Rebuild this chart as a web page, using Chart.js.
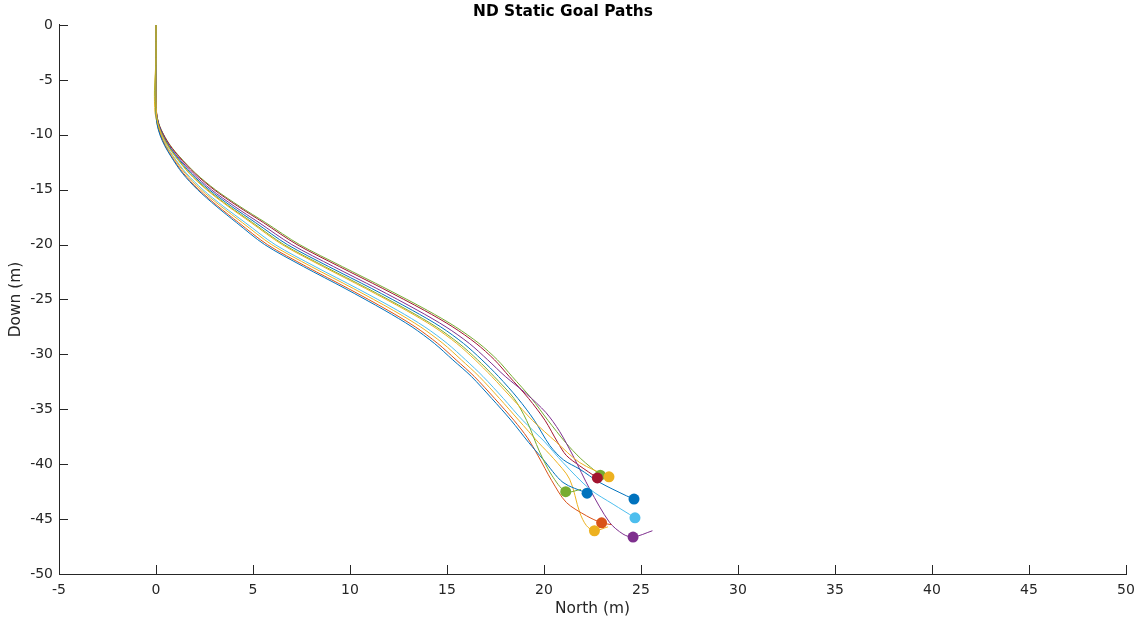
<!DOCTYPE html>
<html>
<head>
<meta charset="utf-8">
<script src="https://cdn.jsdelivr.net/npm/chart.js@4.4.1/dist/chart.umd.min.js"></script>
<style>
  html, body { margin: 0; padding: 0; background: #fff; }
  #wrap { width: 1147px; height: 619px; }
</style>
</head>
<body>
<div id="wrap"><canvas id="paths" width="1147" height="619"></canvas></div>
<script>
// path samples: [north, down]
var pathGreenA = [[0,0],[0,-3],[0,-6],[0.03,-8],[0.15,-9],[0.4,-10],[0.75,-11],[1.22,-12],[2.04,-13.5],[3.06,-15],[4.3,-16.5],[5.65,-18],[7.4,-20],[9.6,-22],[11.85,-24],[14.0,-26],[15.45,-27.5],[16.65,-29],[17.6,-30.5],[18.35,-32],[19.35,-34],[20.2,-36],[21.1,-38],[21.9,-39.5],[22.9,-41.0]];
var pathRed = [[0,0],[0,-3],[0,-6],[0.03,-8],[0.14,-9],[0.39,-10],[0.73,-11],[1.19,-12],[1.99,-13.5],[2.99,-15],[4.21,-16.5],[5.54,-18],[7.27,-20],[9.45,-22],[11.69,-24],[13.84,-26],[15.3,-27.5],[16.5,-29],[17.45,-30.5],[18.2,-32],[19.2,-34],[20.05,-36],[20.7,-38],[21.15,-39.2],[21.84,-40.15],[22.75,-41.25]];
var pathPurple = [[0,0],[0,-3],[0,-6],[0.02,-8],[0.13,-9],[0.36,-10],[0.68,-11],[1.12,-12],[1.89,-13.5],[2.85,-15],[4.03,-16.5],[5.31,-18],[7.0,-20],[9.15,-22],[11.38,-24],[13.5,-26],[14.95,-27.5],[16.15,-29],[17.1,-30.5],[18.0,-32],[19.1,-33.6],[20.1,-35.3],[20.8,-37],[21.5,-39.25],[22.36,-42.27],[23.38,-45.3],[24.07,-46.36],[24.59,-46.64],[25.59,-46.06]];
var pathBlueA = [[0,0],[0,-3],[0,-6],[0.02,-8],[0.12,-9],[0.33,-10],[0.65,-11],[1.07,-12],[1.8,-13.5],[2.74,-15],[3.88,-16.5],[5.13,-18],[6.77,-20],[8.9,-22],[11.12,-24],[13.23,-26],[14.68,-27.5],[15.85,-29],[16.8,-30.5],[17.65,-32],[18.65,-34],[19.5,-36],[20.3,-38.3],[21.0,-39.6],[21.84,-40.45],[22.87,-41.66],[24.25,-42.88],[24.64,-43.18]];
var pathGreenB = [[0,0],[0,-3],[-0.05,-6],[0,-8],[0.1,-9],[0.31,-10],[0.62,-11],[1.02,-12],[1.73,-13.5],[2.65,-15],[3.76,-16.5],[4.98,-18],[6.59,-20],[8.7,-22],[10.91,-24],[13.01,-26],[14.45,-27.5],[15.62,-29],[16.58,-30.5],[17.42,-32],[18.45,-34],[19.1,-36],[19.78,-38.9],[20.4,-41],[21.12,-42.5],[21.9,-42.3]];
var pathYellowA = [[0,0],[0,-3],[0,-6],[0.02,-8],[0.1,-9],[0.3,-10],[0.6,-11],[1.0,-12],[1.7,-13.5],[2.6,-15],[3.7,-16.5],[4.9,-18],[6.5,-20],[8.6,-22],[10.8,-24],[12.9,-26],[14.33,-27.5],[15.5,-29],[16.45,-30.5],[17.3,-32],[18.35,-34],[19.4,-36],[20.64,-38],[21.84,-39.85],[23.35,-41.15]];
var pathCyan = [[0,0],[0,-3],[-0.03,-6],[0,-8],[0.08,-9],[0.26,-10],[0.54,-11],[0.91,-12],[1.56,-13.5],[2.42,-15],[3.46,-16.5],[4.6,-18],[6.14,-20],[8.2,-22],[10.38,-24],[12.46,-26],[13.86,-27.5],[15.01,-29],[15.96,-30.5],[16.85,-32],[17.9,-34],[18.9,-36],[20.0,-37.9],[20.98,-39.85],[22.36,-42.27],[23.56,-43.64],[24.69,-44.88]];
var pathYellowB = [[0,0],[0,-3],[-0.08,-6],[-0.05,-8],[0.07,-9],[0.24,-10],[0.51,-11],[0.87,-12],[1.5,-13.5],[2.32,-15],[3.34,-16.5],[4.45,-18],[5.96,-20],[8.0,-22],[10.17,-24],[12.24,-26],[13.64,-27.5],[14.79,-29],[15.74,-30.5],[16.65,-32],[17.7,-34],[18.7,-36],[19.7,-38],[20.5,-39.5],[21.32,-41.36],[21.84,-44.39],[22.19,-45.6],[22.6,-46.06],[23.3,-45.7]];
var pathOrange = [[0,0],[0,-3],[0,-6],[0.02,-8],[0.06,-9],[0.22,-10],[0.47,-11],[0.81,-12],[1.41,-13.5],[2.21,-15],[3.19,-16.5],[4.26,-18],[5.74,-20],[7.75,-22],[9.91,-24],[11.97,-26],[13.37,-27.5],[14.52,-29],[15.47,-30.5],[16.4,-32],[17.45,-34],[18.45,-36],[19.15,-37.6],[19.7,-39.25],[20.4,-41.5],[21.15,-43.48],[22.19,-44.7],[22.97,-45.34],[23.47,-45.5]];
var pathBlueB = [[0,0],[0,-3],[0,-6],[0,-8],[0.05,-9],[0.2,-10],[0.45,-11],[0.78,-12],[1.36,-13.5],[2.14,-15],[3.1,-16.5],[4.15,-18],[5.6,-20],[7.6,-22],[9.75,-24],[11.8,-26],[13.2,-27.5],[14.35,-29],[15.3,-30.5],[16.25,-32],[17.3,-34],[18.3,-36],[19.2,-38],[19.95,-39.55],[20.98,-41.66],[22.22,-42.64]];

// goal markers
var goalNorth = [22.9, 23.35, 22.75, 21.12, 22.22, 24.64, 24.69, 22.97, 22.6, 24.59];
var goalDown = [-41.0, -41.15, -41.25, -42.5, -42.64, -43.18, -44.88, -45.34, -46.06, -46.64];

var northTicks = [-5, 0, 5, 10, 15, 20, 25, 30, 35, 40, 45, 50];
var downTicks = [-50, -45, -40, -35, -30, -25, -20, -15, -10, -5, 0];

// matlab default colour order
var mBlue = '#0072BD', mOrange = '#D95319', mYellow = '#EDB120', mPurple = '#7E2F8E',
    mGreen = '#77AC30', mCyan = '#4DBEEE', mRed = '#A2142F';
var goalColors = [mGreen, mYellow, mRed, mGreen, mBlue, mBlue, mCyan, mOrange, mYellow, mPurple];

// first entry ends up drawn on top
var pathList = [
  [pathYellowA, mYellow], [pathGreenB, mGreen], [pathBlueB, mBlue], [pathOrange, mOrange],
  [pathYellowB, mYellow], [pathCyan, mCyan], [pathBlueA, mBlue], [pathPurple, mPurple],
  [pathRed, mRed], [pathGreenA, mGreen]
];

var axisColor = '#262626';

function toPoints(arr) {
  return arr.map(function (p) { return {x: p[0], y: p[1]}; });
}

var datasets = [{
  label: 'goals',
  data: goalNorth.map(function (n, i) { return {x: n, y: goalDown[i]}; }),
  showLine: false,
  pointRadius: 5.5,
  pointBackgroundColor: goalColors,
  pointBorderColor: goalColors,
  pointBorderWidth: 0
}];
pathList.forEach(function (p, i) {
  datasets.push({
    label: 'path ' + (i + 1),
    data: toPoints(p[0]),
    showLine: true,
    borderColor: p[1],
    borderWidth: 1,
    pointRadius: 0,
    tension: 0.3
  });
});

// matlab style inward tick marks
var inwardTicks = {
  id: 'inwardTicks',
  beforeDatasetsDraw: function (chart) {
    var ctx = chart.ctx, xs = chart.scales.x, ys = chart.scales.y, a = chart.chartArea;
    ctx.save();
    ctx.strokeStyle = axisColor;
    ctx.lineWidth = 1;
    ctx.beginPath();
    northTicks.forEach(function (v) {
      var px = Math.round(xs.getPixelForValue(v)) + 0.5;
      ctx.moveTo(px, a.bottom);
      ctx.lineTo(px, a.bottom - 9);
    });
    downTicks.forEach(function (v) {
      var py = Math.round(ys.getPixelForValue(v)) + 0.5;
      ctx.moveTo(a.left, py);
      ctx.lineTo(a.left + 9, py);
    });
    ctx.stroke();
    ctx.restore();
  }
};

new Chart(document.getElementById('paths'), {
  type: 'scatter',
  data: { datasets: datasets },
  plugins: [inwardTicks],
  options: {
    responsive: false,
    animation: false,
    devicePixelRatio: 1,
    layout: { padding: { left: 0, right: 21, top: 0, bottom: 0 } },
    plugins: {
      legend: { display: false },
      tooltip: { enabled: false },
      title: {
        display: true,
        text: 'ND Static Goal Paths',
        color: '#000',
        font: { family: 'DejaVu Sans', size: 15.4, weight: 'bold' },
        padding: { top: 3, bottom: 3.5 }
      }
    },
    scales: {
      x: {
        type: 'linear',
        min: -5, max: 50,
        afterBuildTicks: function (s) { s.ticks = northTicks.map(function (v) { return {value: v}; }); },
        afterFit: function (s) { s.height = 45; },
        ticks: { color: axisColor, font: { family: 'DejaVu Sans', size: 14 }, padding: 8, maxRotation: 0 },
        grid: { display: false, drawTicks: false },
        border: { display: true, color: axisColor, width: 1 },
        title: {
          display: true, text: 'North (m)', color: axisColor,
          font: { family: 'DejaVu Sans', size: 15.4 }, padding: { top: 0, bottom: 1 }
        }
      },
      y: {
        type: 'linear',
        min: -50, max: 0,
        afterBuildTicks: function (s) { s.ticks = downTicks.map(function (v) { return {value: v}; }); },
        afterFit: function (s) { s.width = 59; },
        ticks: { color: axisColor, font: { family: 'DejaVu Sans', size: 14 }, padding: 6 },
        grid: { display: false, drawTicks: false },
        border: { display: true, color: axisColor, width: 1 },
        title: {
          display: true, text: 'Down (m)', color: axisColor,
          font: { family: 'DejaVu Sans', size: 15.4 }, padding: { top: 7, bottom: 0 }
        }
      }
    }
  }
});
</script>
</body>
</html>
